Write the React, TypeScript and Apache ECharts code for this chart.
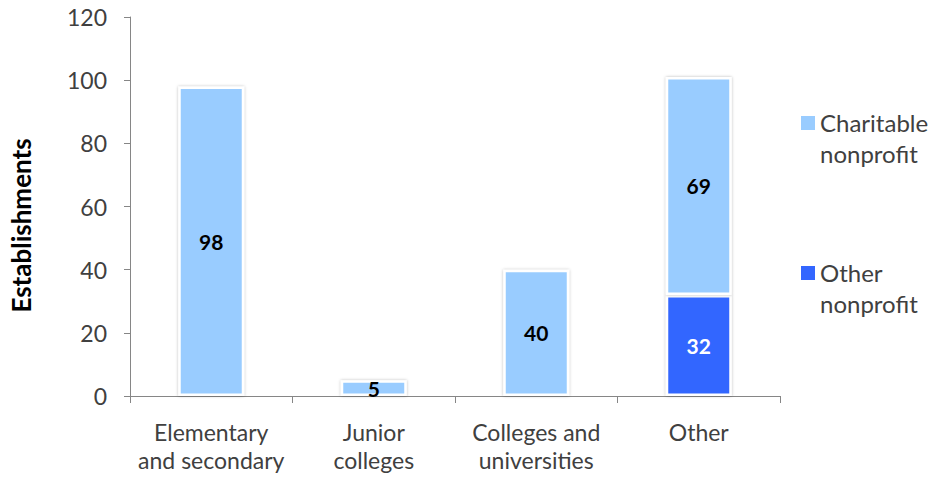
import React, { useEffect, useRef } from "react";
import * as echarts from "echarts";

const categories = ["Elementary\nand secondary", "Junior\ncolleges", "Colleges and\nuniversities", "Other"];
const charitable = [98, 5, 40, 69];
const otherNonprofit = [null, null, null, 32];
const seriesNames = ["Charitable\nnonprofit", "Other\nnonprofit"];
const yTicks = { min: 0, max: 120, interval: 20 };

const FONT = "Lato, 'Open Sans', sans-serif";
// legend icon: square aligned with the first text line
const ICON = "path://M0,0L0.01,0L0.01,0.01Z M0,9L14,9L14,23L0,23Z M0,62L0.01,62L0.01,62.01Z";

export default function App() {
  const ref = useRef<HTMLDivElement>(null);
  useEffect(() => {
    if (!ref.current) return;
    document.body.style.margin = "0";
    const chart = echarts.init(ref.current, null, { renderer: "svg" });
    const barStyle = (color: string) => ({
      color,
      borderColor: "#ffffff",
      borderWidth: 2.5,
      shadowColor: "rgba(0,0,0,0.28)",
      shadowBlur: 3,
    });
    chart.setOption({
      animation: false,
      textStyle: { fontFamily: FONT },
      grid: { left: 125, right: 155, top: 17, bottom: 82, containLabel: false },
      legend: {
        orient: "vertical",
        left: 796,
        top: 102,
        itemWidth: 14,
        itemHeight: 62,
        itemGap: 88,
        icon: ICON,
        data: [
          { name: seriesNames[0], icon: ICON },
          { name: seriesNames[1], icon: ICON },
        ],
        textStyle: { fontSize: 24, lineHeight: 31, color: "#404040", fontFamily: FONT },
        itemStyle: { borderWidth: 0, shadowBlur: 0 },
        selectedMode: false,
      },
      xAxis: {
        type: "category",
        data: categories,
        axisLine: { lineStyle: { color: "#868686", width: 1 } },
        axisTick: { show: true, alignWithLabel: false, length: 7, lineStyle: { color: "#868686" } },
        axisLabel: { fontSize: 23, lineHeight: 28, color: "#404040", margin: 22, interval: 0, fontFamily: FONT },
      },
      yAxis: {
        type: "value",
        min: yTicks.min,
        max: yTicks.max,
        interval: yTicks.interval,
        name: "Establishments",
        nameLocation: "middle",
        nameGap: 96,
        nameRotate: 90,
        nameTextStyle: { fontSize: 26, fontWeight: "bold", color: "#000", fontFamily: FONT, padding: [0, 38, 0, 0] },
        axisLine: { show: true, lineStyle: { color: "#868686", width: 1 } },
        axisTick: { show: true, length: 6, lineStyle: { color: "#868686" } },
        splitLine: { show: false },
        axisLabel: { fontSize: 23, color: "#404040", margin: 23, fontFamily: FONT },
      },
      series: [
        {
          name: seriesNames[1],
          type: "bar",
          stack: "total",
          barWidth: 66,
          data: otherNonprofit,
          itemStyle: barStyle("#3366FF"),
          label: { show: true, position: "inside", color: "#ffffff", fontWeight: "bold", fontSize: 21, fontFamily: FONT },
        },
        {
          name: seriesNames[0],
          type: "bar",
          stack: "total",
          barWidth: 66,
          data: charitable,
          itemStyle: barStyle("#99CCFF"),
          label: { show: true, position: "inside", color: "#000000", fontWeight: "bold", fontSize: 21, fontFamily: FONT },
        },
      ],
    });
    return () => chart.dispose();
  }, []);
  return <div ref={ref} style={{ width: 935, height: 478 }} />;
}
